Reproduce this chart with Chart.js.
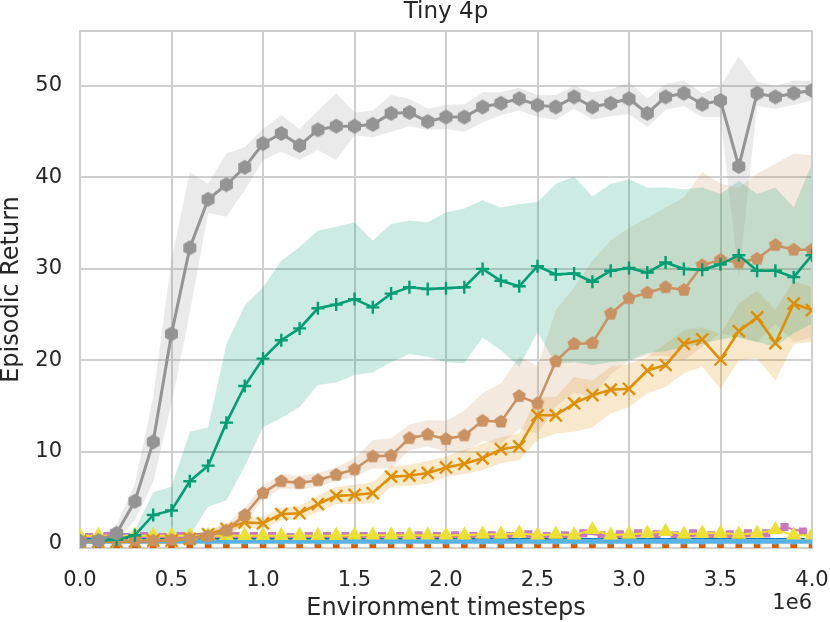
<!DOCTYPE html>
<html>
<head>
<meta charset="utf-8">
<script src="https://cdn.jsdelivr.net/npm/chart.js@4.4.0/dist/chart.umd.min.js"></script>
<style>
  body { margin: 0; background: #fff; }
  canvas { display: block; }
</style>
</head>
<body>
<canvas id="chart" width="830" height="622"></canvas>
<script>
// timesteps in units of 1e6
const steps = [0.0, 0.1, 0.2, 0.3, 0.4, 0.5, 0.6, 0.7, 0.8, 0.9, 1.0, 1.1, 1.2, 1.3, 1.4, 1.5, 1.6, 1.7, 1.8, 1.9, 2.0,
               2.1, 2.2, 2.3, 2.4, 2.5, 2.6, 2.7, 2.8, 2.9, 3.0, 3.1, 3.2, 3.3, 3.4, 3.5, 3.6, 3.7, 3.8, 3.9, 4.0];
// the pink run is logged half way between the others
const pinkSteps = [0.05, 0.15, 0.25, 0.35, 0.45, 0.55, 0.65, 0.75, 0.85, 0.95, 1.05, 1.15, 1.25, 1.35, 1.45, 1.55, 1.65, 1.75, 1.85, 1.95,
                   2.05, 2.15, 2.25, 2.35, 2.45, 2.55, 2.65, 2.75, 2.85, 2.95, 3.05, 3.15, 3.25, 3.35, 3.45, 3.55, 3.65, 3.75, 3.85, 3.95];

const grayMean = [0.2, 0.3, 1.1, 4.6, 11.1, 22.9, 32.3, 37.6, 39.2, 41.1, 43.7, 44.8, 43.5, 45.2, 45.6, 45.6, 45.8, 47.0, 47.1, 46.1, 46.6,
                  46.6, 47.7, 48.1, 48.6, 47.9, 47.7, 48.8, 47.7, 48.1, 48.6, 47.0, 48.8, 49.2, 48.0, 48.4, 41.2, 49.2, 48.8, 49.2, 49.5];
const grayHigh = [0.5, 0.8, 2.0, 6.5, 16.0, 31.0, 40.6, 39.3, 42.6, 43.3, 45.3, 46.8, 45.3, 47.3, 49.2, 47.1, 47.3, 49.0, 48.6, 47.5, 47.9,
                  48.0, 49.3, 49.3, 49.8, 49.0, 49.0, 50.0, 49.3, 49.6, 50.4, 48.6, 50.2, 50.6, 49.2, 50.0, 53.2, 50.5, 50.0, 50.6, 50.5];
const grayLow  = [0.0, 0.0, 0.3, 2.5, 6.7, 15.3, 25.2, 36.1, 35.7, 38.6, 41.9, 42.8, 41.9, 43.0, 41.9, 44.6, 44.4, 45.0, 45.6, 45.2, 45.3,
                  45.0, 46.0, 46.8, 47.3, 46.6, 46.3, 47.5, 46.3, 46.7, 46.9, 45.5, 47.4, 47.8, 46.6, 46.6, 29.1, 47.8, 47.5, 47.9, 48.4];

const greenMean = [0.3, 0.3, 0.4, 0.9, 3.1, 3.6, 6.8, 8.5, 13.2, 17.2, 20.2, 22.2, 23.5, 25.7, 26.1, 26.7, 25.8, 27.3, 28.0, 27.8, 27.9,
                   28.0, 30.0, 28.7, 28.1, 30.3, 29.4, 29.5, 28.6, 29.8, 30.1, 29.6, 30.7, 30.0, 29.9, 30.5, 31.5, 29.8, 29.8, 29.1, 31.5];
const greenHigh = [0.5, 0.5, 0.7, 1.5, 5.6, 6.2, 12.2, 12.7, 21.8, 26.0, 28.0, 30.9, 32.4, 34.2, 34.6, 35.1, 33.1, 34.9, 35.3, 35.1, 36.2,
                   36.6, 37.5, 36.7, 37.1, 37.3, 39.3, 40.1, 37.9, 39.3, 39.8, 38.9, 38.9, 38.7, 38.9, 38.2, 39.6, 38.2, 38.9, 36.7, 41.5];
const greenLow  = [0.0, 0.0, 0.1, 0.3, 0.8, 0.5, 0.8, 4.0, 4.7, 8.4, 12.7, 13.7, 14.9, 17.3, 17.6, 18.4, 18.7, 19.8, 20.7, 20.4, 19.8,
                   19.7, 22.5, 21.1, 19.3, 23.1, 19.6, 19.8, 19.5, 19.8, 20.0, 20.8, 21.0, 21.5, 21.8, 22.3, 22.5, 22.0, 21.5, 23.0, 24.0];

const brownMean = [0.3, 0.3, 0.3, 0.3, 0.3, 0.4, 0.5, 0.8, 1.4, 3.1, 5.5, 6.8, 6.6, 6.9, 7.5, 8.1, 9.5, 9.6, 11.5, 11.9, 11.4,
                   11.8, 13.4, 13.3, 16.1, 15.3, 19.9, 21.8, 21.9, 25.1, 26.8, 27.4, 28.0, 27.7, 30.4, 31.0, 30.7, 31.1, 32.6, 32.1, 32.1];
const brownHigh = [0.8, 0.8, 0.8, 0.8, 0.8, 0.9, 1.0, 1.4, 2.1, 3.9, 6.3, 7.6, 7.4, 7.7, 8.3, 9.3, 11.3, 11.5, 13.0, 13.5, 13.4,
                   14.5, 16.4, 17.5, 20.4, 19.4, 25.5, 28.0, 30.9, 33.1, 34.5, 35.6, 36.7, 37.8, 40.6, 39.3, 38.9, 40.4, 41.5, 42.6, 42.4];
const brownLow  = [0.0, 0.0, 0.0, 0.0, 0.0, 0.0, 0.1, 0.3, 0.8, 2.3, 4.8, 6.0, 5.9, 6.2, 6.8, 7.3, 8.2, 8.2, 10.2, 10.6, 10.0,
                   10.0, 11.2, 10.9, 12.5, 12.0, 15.0, 16.5, 16.0, 18.5, 20.0, 20.5, 20.5, 20.0, 21.5, 23.0, 22.5, 22.0, 24.0, 22.0, 22.5];

const orangeMean = [0.2, 0.2, 0.2, 0.2, 0.3, 0.3, 0.5, 1.0, 1.6, 2.3, 2.2, 3.2, 3.3, 4.3, 5.2, 5.3, 5.5, 7.3, 7.4, 7.7, 8.3,
                    8.7, 9.3, 10.3, 10.6, 14.0, 14.0, 15.3, 16.2, 16.8, 16.9, 18.9, 19.5, 21.8, 22.3, 20.1, 23.2, 24.7, 21.9, 26.2, 25.5];
const orangeHigh = [0.5, 0.5, 0.5, 0.5, 0.6, 0.6, 0.9, 1.5, 2.2, 2.9, 2.9, 3.9, 4.1, 5.2, 6.2, 6.4, 6.7, 8.4, 8.6, 9.0, 9.5,
                    10.2, 10.9, 11.6, 12.0, 16.0, 16.0, 18.2, 17.8, 19.3, 19.6, 20.4, 21.8, 23.3, 23.6, 22.9, 26.2, 27.6, 25.5, 28.7, 28.0];
const orangeLow  = [0.0, 0.0, 0.0, 0.0, 0.0, 0.0, 0.2, 0.6, 1.0, 1.7, 1.6, 2.5, 2.6, 3.4, 4.3, 4.3, 4.4, 6.2, 6.3, 6.5, 7.3,
                    7.6, 8.0, 8.8, 9.1, 11.3, 12.0, 12.2, 12.7, 14.2, 14.9, 16.4, 17.1, 18.6, 19.3, 16.9, 20.0, 20.2, 17.8, 21.8, 22.0];

const pinkMean = [0.7, 0.8, 0.7, 0.8, 0.7, 0.8, 0.7, 0.8, 0.8, 0.8, 0.8, 0.7, 0.8, 0.8, 0.8, 0.8, 0.8, 0.8, 0.9, 0.8,
                  0.9, 0.8, 0.9, 0.8, 1.0, 0.8, 0.9, 1.1, 0.9, 1.0, 1.1, 1.0, 0.9, 1.1, 0.9, 1.0, 1.1, 1.1, 1.8, 1.3];
const yellowMean = [0.8, 0.85, 0.85, 0.85, 0.85, 0.85, 0.85, 0.85, 0.85, 0.85, 0.85, 0.85, 0.85, 0.85, 0.85, 0.9, 0.9, 0.9, 0.9, 0.9, 0.9,
                    0.9, 1.0, 1.0, 1.1, 0.9, 1.0, 0.9, 1.5, 0.9, 1.0, 1.1, 1.3, 1.0, 1.1, 1.1, 1.0, 1.1, 1.5, 0.9, 0.9];
const skyMean = [0.2, 0.2, 0.2, 0.2, 0.2, 0.2, 0.2, 0.2, 0.2, 0.2, 0.2, 0.2, 0.2, 0.2, 0.2, 0.2, 0.2, 0.2, 0.2, 0.2, 0.2,
                 0.2, 0.2, 0.2, 0.2, 0.2, 0.2, 0.2, 0.2, 0.2, 0.2, 0.2, 0.2, 0.2, 0.2, 0.2, 0.2, 0.2, 0.2, 0.2, 0.2];
const blueMean = [0.5, 0.5, 0.5, 0.5, 0.5, 0.5, 0.5, 0.5, 0.5, 0.5, 0.5, 0.5, 0.5, 0.5, 0.5, 0.5, 0.5, 0.5, 0.5, 0.5, 0.5,
                  0.5, 0.5, 0.5, 0.5, 0.5, 0.5, 0.5, 0.5, 0.5, 0.5, 0.5, 0.5, 0.5, 0.5, 0.5, 0.5, 0.5, 0.5, 0.5, 0.5];
const redMean = [-0.4, -0.4, -0.4, -0.4, -0.4, -0.4, -0.4, -0.4, -0.4, -0.4, -0.4, -0.4, -0.4, -0.4, -0.4, -0.4, -0.4, -0.4, -0.4, -0.4, -0.4,
                 -0.4, -0.4, -0.4, -0.4, -0.4, -0.4, -0.4, -0.4, -0.4, -0.4, -0.4, -0.4, -0.4, -0.4, -0.4, -0.4, -0.4, -0.4, -0.4, -0.4];

const xTicks = [0.0, 0.5, 1.0, 1.5, 2.0, 2.5, 3.0, 3.5, 4.0];
const yTicks = [0, 10, 20, 30, 40, 50];

const TEXT = '#262626';
const GRID = '#cfcfcf';
Chart.defaults.font.family = "'DejaVu Sans', sans-serif";
Chart.defaults.color = TEXT;

// polygon markers (hexagon / pentagon) as little canvases
function polyMarker(n, r, color) {
  const c = document.createElement('canvas');
  c.width = c.height = Math.ceil(2 * r + 2);
  const g = c.getContext('2d');
  const m = c.width / 2;
  g.beginPath();
  for (let i = 0; i < n; i++) {
    const a = -Math.PI / 2 + i * 2 * Math.PI / n;
    const px = m + r * Math.cos(a), py = m + r * Math.sin(a);
    if (i === 0) g.moveTo(px, py); else g.lineTo(px, py);
  }
  g.closePath();
  g.fillStyle = color;
  g.fill();
  return c;
}

const pts = (arr, xs) => (xs || steps).map((s, i) => ({ x: s, y: arr[i] }));

function bandSets(high, low, fillColor) {
  return [
    { data: pts(high), fill: '+1', backgroundColor: fillColor, borderWidth: 0, borderColor: 'transparent',
      pointRadius: 0, order: 50 },
    { data: pts(low), fill: false, borderWidth: 0, borderColor: 'transparent', pointRadius: 0, order: 50 }
  ];
}

function lineSet(data, color, style, radius, extra) {
  return Object.assign({
    data, borderColor: color, backgroundColor: color, borderWidth: 2.6,
    pointStyle: style, pointRadius: radius, pointBorderWidth: 2.4, pointBorderColor: color,
    pointBackgroundColor: color, fill: false, tension: 0
  }, extra || {});
}

const datasets = [
  ...bandSets(grayHigh, grayLow, 'rgba(148,148,148,0.2)'),
  ...bandSets(greenHigh, greenLow, 'rgba(2,158,115,0.2)'),
  ...bandSets(brownHigh, brownLow, 'rgba(202,145,97,0.2)'),
  ...bandSets(orangeHigh, orangeLow, 'rgba(222,143,5,0.2)'),
  lineSet(pts(redMean), '#D55E00', 'rect', 3, { order: 12, borderWidth: 0 }),
  lineSet(pts(pinkMean, pinkSteps), '#CC78BC', 'rect', 4, { order: 11, borderWidth: 2 }),
  lineSet(pts(blueMean), '#0173B2', 'circle', 0, { order: 10, borderWidth: 1.5 }),
  lineSet(pts(skyMean), '#56B4E9', 'circle', 2, { order: 9, borderWidth: 4 }),
  lineSet(pts(yellowMean), '#ECE133', 'triangle', 6.4, { order: 8, borderWidth: 2 }),
  lineSet(pts(orangeMean), '#DE8F05', 'crossRot', 8.5, { order: 4 }),
  lineSet(pts(brownMean), '#CA9161', polyMarker(5, 7, '#CA9161'), 7, { order: 3 }),
  lineSet(pts(greenMean), '#029E73', 'cross', 6.5, { order: 2 }),
  lineSet(pts(grayMean), '#949494', polyMarker(6, 7.5, '#949494'), 7.5, { order: 1, borderWidth: 3 })
];

const decor = {
  id: 'decor',
  beforeDatasetsDraw(chart) {
    const { ctx, chartArea: a } = chart;
    ctx.save();
    ctx.strokeStyle = GRID;
    ctx.lineWidth = 2;
    ctx.strokeRect(a.left, a.top, a.right - a.left, a.bottom - a.top);
    ctx.restore();
  },
  afterDraw(chart) {
    const { ctx, chartArea: a } = chart;
    ctx.save();
    ctx.fillStyle = TEXT;
    ctx.textBaseline = 'middle';
    ctx.textAlign = 'center';
    ctx.font = "23px 'DejaVu Sans'";
    ctx.fillText('Tiny 4p', (a.left + a.right) / 2, 12);
    ctx.font = "21px 'DejaVu Sans'";
    ctx.textAlign = 'right';
    ctx.fillText('1e6', a.right, 604);
    ctx.restore();
  }
};

new Chart(document.getElementById('chart'), {
  type: 'line',
  data: { datasets },
  plugins: [decor],
  options: {
    responsive: false,
    animation: false,
    layout: { padding: { top: 31, right: 18, left: 0, bottom: 0 } },
    plugins: {
      legend: { display: false },
      tooltip: { enabled: false },
      filler: { drawTime: 'beforeDatasetsDraw' }
    },
    scales: {
      x: {
        type: 'linear', min: 0, max: 4,
        afterFit: s => { s.height = 74; s.paddingLeft = 0; s.paddingRight = 0; },
        afterBuildTicks: s => { s.ticks = xTicks.map(v => ({ value: v })); },
        ticks: { font: { size: 21 }, padding: 20, color: TEXT, callback: v => v.toFixed(1), maxRotation: 0 },
        grid: { color: GRID, lineWidth: 2, drawTicks: false, tickLength: 0 },
        border: { display: false },
        title: { display: true, text: 'Environment timesteps', font: { size: 24, lineHeight: 1.1 }, color: TEXT,
                 padding: { top: 0, bottom: 0 } }
      },
      y: {
        type: 'linear', min: -0.5, max: 56,
        afterFit: s => { s.width = 80; s.paddingTop = 0; s.paddingBottom = 0; },
        afterBuildTicks: s => { s.ticks = yTicks.map(v => ({ value: v })); },
        ticks: { font: { size: 21 }, padding: 18, color: TEXT },
        grid: { color: GRID, lineWidth: 2, drawTicks: false, tickLength: 0 },
        border: { display: false },
        title: { display: true, text: 'Episodic Return', font: { size: 24, lineHeight: 1.0 }, color: TEXT,
                 padding: { top: 0, bottom: 0 } }
      }
    }
  }
});
</script>
</body>
</html>
